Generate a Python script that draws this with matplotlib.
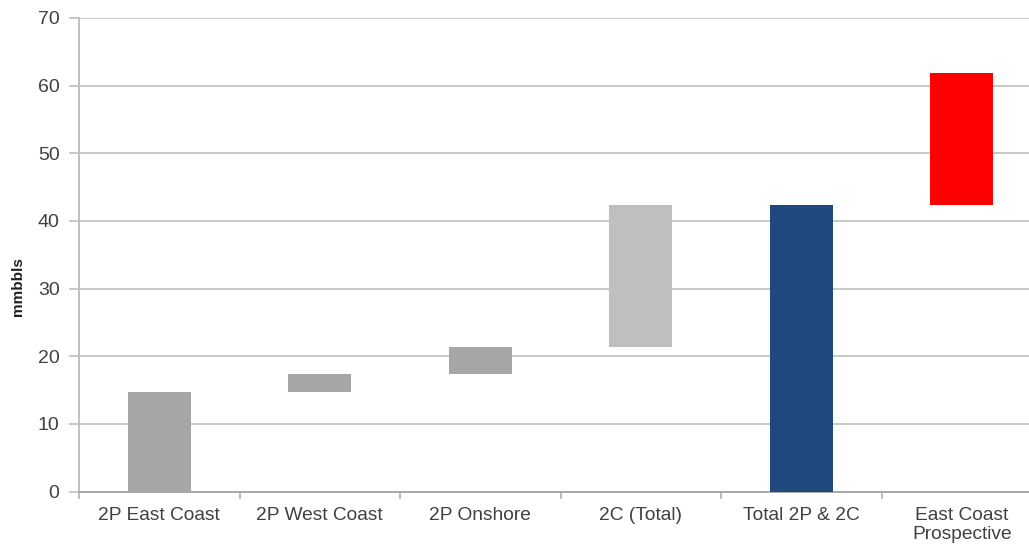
import numpy as np
import matplotlib.pyplot as plt

plt.rcParams['font.family'] = ['Liberation Sans', 'DejaVu Sans']

categories = ['2P East Coast', '2P West Coast', '2P Onshore', '2C (Total)',
              'Total 2P & 2C', 'East Coast\nProspective']
# reserve increments in mmbbls; the total bar restarts from zero
increments = [14.7, 2.7, 4.0, 21.0, 42.4, 19.5]
is_total = [False, False, False, False, True, False]
colors = ['#a6a6a6', '#a6a6a6', '#a6a6a6', '#bfbfbf', '#1f497d', '#ff0000']

bottoms = []
running = 0.0
for inc, tot in zip(increments, is_total):
    if tot:
        bottoms.append(0.0)
        running = inc
    else:
        bottoms.append(running)
        running += inc

fig = plt.figure(figsize=(10.29, 5.49), dpi=100)
ax = fig.add_axes([79 / 1029, 57.5 / 549, 963 / 1029, 473.5 / 549])

x = np.arange(len(categories))
ax.bar(x, increments, bottom=bottoms, width=0.39, color=colors, zorder=3)

ax.set_xlim(-0.5, len(categories) - 0.5)
ax.set_ylim(0, 70)
ax.set_yticks(np.arange(0, 71, 10))
ax.yaxis.grid(True, color='#c8c8c8', linewidth=1.4, zorder=0)

ax.set_xticks(x)
ax.set_xticklabels(categories, fontsize=13.8, color='#404040', linespacing=1.15)
ax.set_xticks(np.arange(-0.5, len(categories), 1), minor=True)
ax.tick_params(axis='x', which='major', length=0, pad=11)
ax.tick_params(axis='x', which='minor', length=5, color='#b0b0b0', width=1.2)
ax.tick_params(axis='y', length=7, color='#c8c8c8', width=1.4, pad=7,
               labelsize=14, labelcolor='#404040')

for side in ['top', 'right']:
    ax.spines[side].set_visible(False)
ax.spines['left'].set_color('#c0c0c0')
ax.spines['left'].set_linewidth(1.4)
ax.spines['bottom'].set_color('#a8a8a8')
ax.spines['bottom'].set_linewidth(1.4)

fig.text(18 / 1029, 1 - 287 / 549, 'mmbbls', rotation=90, fontsize=11,
         fontweight='bold', color='#202020', ha='center', va='center')

fig.savefig('out.png', dpi=100)
